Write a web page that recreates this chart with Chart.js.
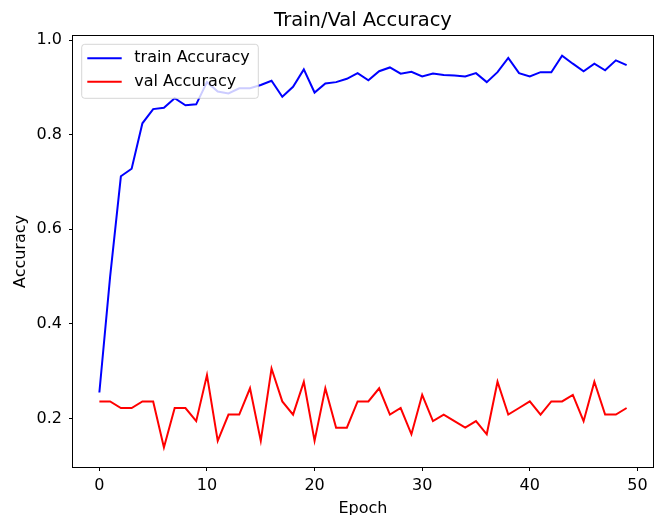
<!DOCTYPE html>
<html lang="en">
<head>
    <meta charset="UTF-8">
    <title>Train/Val Accuracy</title>
    <style>
        body {
            margin: 0;
            padding: 0;
            background: #fff;
        }
        #wrap {
            width: 660px;
            height: 515px;
        }
    </style>
</head>
<body>
    <div id="wrap">
        <canvas id="accChart" width="660" height="515"></canvas>
    </div>

    <script src="https://cdn.jsdelivr.net/npm/chart.js"></script>
    <script>
        // data
        const epochs = [0, 1, 2, 3, 4, 5, 6, 7, 8, 9, 10, 11, 12, 13, 14, 15, 16, 17, 18, 19,
                        20, 21, 22, 23, 24, 25, 26, 27, 28, 29, 30, 31, 32, 33, 34, 35, 36, 37, 38, 39,
                        40, 41, 42, 43, 44, 45, 46, 47, 48, 49];
        const trainAcc = [0.255, 0.500, 0.712, 0.728, 0.824, 0.854, 0.857, 0.877, 0.862, 0.864,
                          0.911, 0.891, 0.887, 0.898, 0.898, 0.905, 0.914, 0.880, 0.901, 0.938,
                          0.889, 0.908, 0.911, 0.918, 0.930, 0.915, 0.934, 0.942, 0.929, 0.933,
                          0.923, 0.929, 0.926, 0.925, 0.923, 0.930, 0.911, 0.932, 0.962, 0.930,
                          0.923, 0.932, 0.932, 0.967, 0.950, 0.934, 0.950, 0.936, 0.957, 0.947];
        const valAcc = [0.2361, 0.2361, 0.2222, 0.2222, 0.2361, 0.2361, 0.1389, 0.2222, 0.2222, 0.1944,
                        0.2917, 0.1528, 0.2083, 0.2083, 0.2639, 0.1528, 0.3056, 0.2361, 0.2083, 0.2778,
                        0.1528, 0.2639, 0.1806, 0.1806, 0.2361, 0.2361, 0.2639, 0.2083, 0.2222, 0.1667,
                        0.2500, 0.1944, 0.2083, 0.1944, 0.1806, 0.1944, 0.1667, 0.2778, 0.2083, 0.2222,
                        0.2361, 0.2083, 0.2361, 0.2361, 0.2500, 0.1944, 0.2778, 0.2083, 0.2083, 0.2222];
        const seriesNames = ['train Accuracy', 'val Accuracy'];
        const seriesColors = ['#0000ff', '#ff0000'];
        const xTicks = [0, 10, 20, 30, 40, 50];
        const xTickLabels = ['0', '10', '20', '30', '40', '50'];
        const yTicks = [0.2, 0.4, 0.6, 0.8, 1.0];
        const yTickLabels = ['0.2', '0.4', '0.6', '0.8', '1.0'];

        const FONT = 'DejaVu Sans';
        const FS = 16;

        // matplotlib-like box: frame on all four sides + legend inside the axes
        const mplFrame = {
            id: 'mplFrame',
            afterDatasetsDraw(chart) {
                const ctx = chart.ctx;
                const a = chart.chartArea;
                const lx = a.left + 8.7, ly = a.top + 8.3, lw = 176.6, lh = 54;
                ctx.save();
                ctx.beginPath();
                ctx.roundRect(lx, ly, lw, lh, 3);
                ctx.fillStyle = 'rgba(255,255,255,0.8)';
                ctx.fill();
                ctx.strokeStyle = 'rgba(204,204,204,0.8)';
                ctx.lineWidth = 1;
                ctx.stroke();
                ctx.font = FS + 'px "' + FONT + '"';
                ctx.textBaseline = 'middle';
                ctx.textAlign = 'left';
                seriesNames.forEach((name, i) => {
                    const y = ly + 14 + i * 23.4;
                    ctx.beginPath();
                    ctx.moveTo(lx + 5.6, y);
                    ctx.lineTo(lx + 40, y);
                    ctx.strokeStyle = seriesColors[i];
                    ctx.lineWidth = 2;
                    ctx.stroke();
                    ctx.fillStyle = '#000';
                    ctx.fillText(name, lx + 52.6, y);
                });
                ctx.restore();
            },
            afterDraw(chart) {
                const ctx = chart.ctx;
                const a = chart.chartArea;
                ctx.save();
                ctx.strokeStyle = '#000';
                ctx.lineWidth = 1;
                ctx.strokeRect(Math.round(a.left) - 0.5, Math.round(a.top) - 0.5,
                               Math.round(a.right - a.left) + 1, Math.round(a.bottom - a.top) + 1);
                ctx.restore();
            }
        };

        new Chart(document.getElementById('accChart'), {
            type: 'line',
            data: {
                datasets: [{
                    label: seriesNames[0],
                    data: epochs.map((e, i) => ({ x: e, y: trainAcc[i] })),
                    borderColor: seriesColors[0],
                    borderWidth: 2,
                    pointRadius: 0,
                    tension: 0,
                    fill: false
                }, {
                    label: seriesNames[1],
                    data: epochs.map((e, i) => ({ x: e, y: valAcc[i] })),
                    borderColor: seriesColors[1],
                    borderWidth: 2,
                    pointRadius: 0,
                    tension: 0,
                    fill: false
                }]
            },
            options: {
                responsive: false,
                animation: false,
                layout: { padding: { top: 0, right: 7, bottom: 0, left: 0 } },
                plugins: {
                    legend: { display: false },
                    tooltip: { enabled: false },
                    title: {
                        display: true,
                        fullSize: false,
                        text: 'Train/Val Accuracy',
                        color: '#000',
                        font: { family: FONT, size: 19.5, weight: 'normal', lineHeight: 1.2 },
                        padding: { top: 9, bottom: 3.6 }
                    }
                },
                scales: {
                    x: {
                        type: 'linear',
                        min: -2.45,
                        max: 51.45,
                        afterBuildTicks: s => { s.ticks = xTicks.map(v => ({ value: v })); },
                        afterFit: s => { s.height = 48; },
                        border: { display: false },
                        grid: { drawOnChartArea: false, drawTicks: true, tickLength: 4, color: '#000', lineWidth: 1 },
                        ticks: {
                            autoSkip: false,
                            maxRotation: 0,
                            padding: 5.5,
                            color: '#000',
                            font: { family: FONT, size: FS },
                            callback: (v, i) => xTickLabels[i]
                        },
                        title: {
                            display: true,
                            text: 'Epoch',
                            color: '#000',
                            font: { family: FONT, size: FS, lineHeight: 1 },
                            padding: { top: 0, bottom: -2 }
                        }
                    },
                    y: {
                        type: 'linear',
                        min: 0.0975,
                        max: 1.0085,
                        afterBuildTicks: s => { s.ticks = yTicks.map(v => ({ value: v })); },
                        afterFit: s => { s.width = 73; },
                        border: { display: false },
                        grid: { drawOnChartArea: false, drawTicks: true, tickLength: 4, color: '#000', lineWidth: 1 },
                        ticks: {
                            autoSkip: false,
                            padding: 7,
                            color: '#000',
                            font: { family: FONT, size: FS },
                            callback: (v, i) => yTickLabels[i]
                        },
                        title: {
                            display: true,
                            text: 'Accuracy',
                            color: '#000',
                            font: { family: FONT, size: FS, lineHeight: 1.2 },
                            padding: { top: 11, bottom: 0 }
                        }
                    }
                }
            },
            plugins: [mplFrame]
        });
    </script>
</body>
</html>
